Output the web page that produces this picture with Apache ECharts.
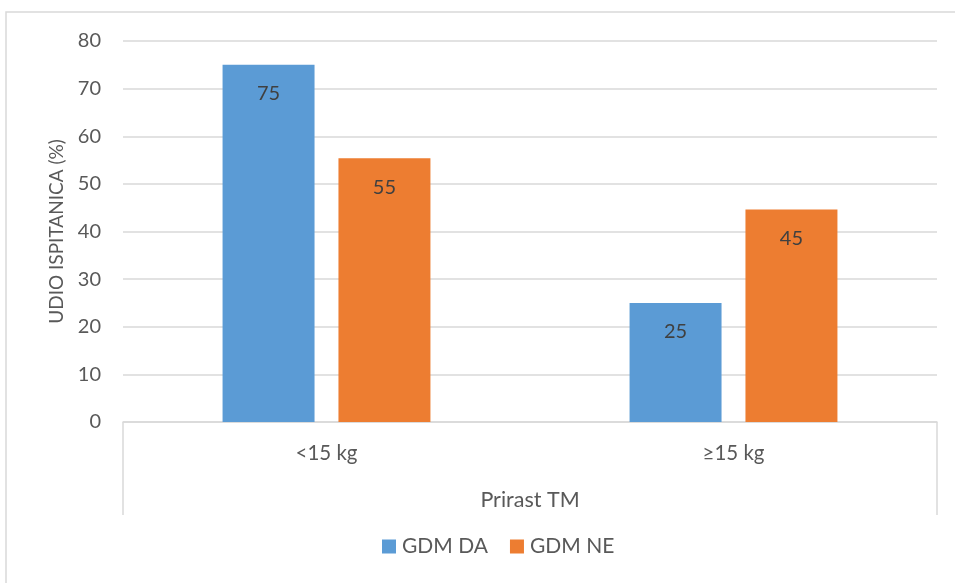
<!DOCTYPE html>
<html>
<head>
<meta charset="utf-8">
<script src="https://cdn.jsdelivr.net/npm/echarts@6/dist/echarts.min.js"></script>
<style>html,body{margin:0;padding:0;background:#fff}#c{width:955px;height:583px}</style>
</head>
<body>
<div id="c"></div>
<script>
const categories = ['<15 kg', '≥15 kg'];
const gdmDA = [75, 25];
const gdmNE = [55.4, 44.6];
const seriesNames = ['GDM DA', 'GDM NE'];
const yTicks = { min: 0, max: 80, interval: 10 };

const FONT = 'Lato, "Open Sans", sans-serif';
const gridLeft = 123, gridRight = 18, gridTop = 41, gridBottom = 161;
const W = 955, H = 583;
const chart = echarts.init(document.getElementById('c'), null, { renderer: 'canvas' });
const labelCfg = {
  show: true, position: 'insideTop', distance: 19,
  color: '#404040', fontSize: 20, fontFamily: FONT,
  formatter: p => Math.round(p.value)
};
chart.setOption({
  animation: false,
  textStyle: { fontFamily: FONT },
  grid: { left: gridLeft, right: gridRight, top: gridTop, bottom: gridBottom },
  legend: {
    bottom: 21, left: 377, itemWidth: 14, itemHeight: 14, itemGap: 22,
    icon: 'rect',
    textStyle: { color: '#595959', fontSize: 21, fontFamily: FONT, padding: [0, 0, 0, 1] },
    data: seriesNames
  },
  xAxis: {
    type: 'category', data: categories,
    axisLine: { lineStyle: { color: '#d9d9d9', width: 1.5 } },
    axisTick: { show: false },
    axisLabel: { color: '#595959', fontSize: 20.5, fontFamily: FONT, margin: 21 },
    name: 'Prirast TM', nameLocation: 'middle', nameGap: 67,
    nameTextStyle: { color: '#595959', fontSize: 21.5, fontFamily: FONT }
  },
  yAxis: {
    type: 'value', min: yTicks.min, max: yTicks.max, interval: yTicks.interval,
    axisLine: { show: false }, axisTick: { show: false },
    splitLine: { lineStyle: { color: '#d9d9d9', width: 1.5 } },
    axisLabel: { color: '#595959', fontSize: 20, fontFamily: FONT, margin: 22 },
    name: 'UDIO ISPITANICA (%)', nameLocation: 'middle', nameGap: 57,
    nameTextStyle: { color: '#595959', fontSize: 19, fontFamily: FONT }
  },
  series: [
    { name: seriesNames[0], type: 'bar', data: gdmDA, barWidth: '22.6%', barGap: '26%',
      itemStyle: { color: '#5B9BD5' }, label: labelCfg },
    { name: seriesNames[1], type: 'bar', data: gdmNE, barWidth: '22.6%', barGap: '26%',
      itemStyle: { color: '#ED7D31' }, label: labelCfg }
  ],
  graphic: [
    { type: 'rect', silent: true, shape: { x: 6, y: 12, width: W, height: H },
      style: { fill: 'none', stroke: '#d9d9d9', lineWidth: 1.5 } },
    { type: 'line', silent: true, shape: { x1: gridLeft, y1: H - gridBottom, x2: gridLeft, y2: H - gridBottom + 93 },
      style: { stroke: '#d9d9d9', lineWidth: 1.5 } },
    { type: 'line', silent: true, shape: { x1: W - gridRight, y1: H - gridBottom, x2: W - gridRight, y2: H - gridBottom + 93 },
      style: { stroke: '#d9d9d9', lineWidth: 1.5 } }
  ]
});
</script>
</body>
</html>
